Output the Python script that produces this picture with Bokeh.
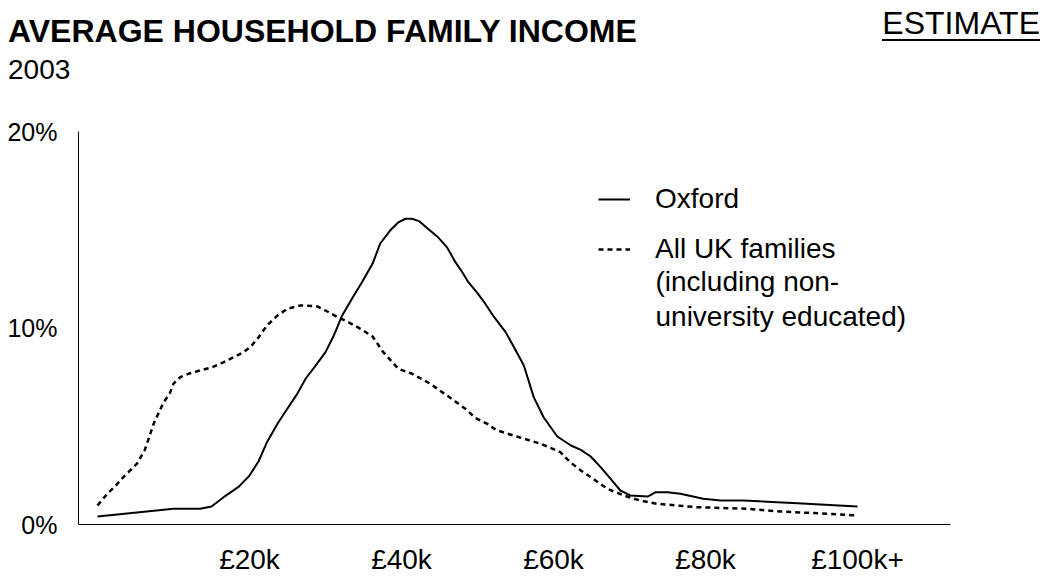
from bokeh.plotting import figure
from bokeh.layouts import column
from bokeh.models import Range1d, FixedTicker, Label, Legend, LegendItem, Div
from bokeh.embed import file_html
from bokeh.resources import INLINE

# ---- data (income in £k, share of households in %) ----
oxford_k = [0, 10, 13.5, 15, 16.6, 18.6, 20, 21.2, 22.3, 23.7, 25, 26.3, 27.4, 28.7, 30,
            31.1, 32.2, 33.5, 34.8, 36.2, 37.2, 38.5, 39.6, 40.5, 41.4, 42.3, 43.4, 44.7,
            46, 47.1, 48, 48.8, 50, 51, 52.2, 53.7, 54.7, 56.1, 57.4, 58.7, 60.5, 62.3,
            63.6, 64.9, 66.2, 67.5, 68.8, 70.1, 72.4, 73.4, 75, 76.7, 79.7, 82, 85, 92.1, 100]
oxford_pct = [0.41, 0.8, 0.8, 0.92, 1.39, 1.93, 2.49, 3.22, 4.19, 5.14, 5.9, 6.66, 7.43,
              8.09, 8.77, 9.62, 10.64, 11.5, 12.33, 13.28, 14.3, 14.96, 15.38, 15.56, 15.56,
              15.44, 15.08, 14.66, 14.1, 13.35, 12.84, 12.33, 11.77, 11.25, 10.55, 9.79, 9.1,
              8.09, 6.48, 5.46, 4.48, 4.02, 3.8, 3.46, 2.92, 2.33, 1.73, 1.48, 1.42, 1.64,
              1.64, 1.56, 1.31, 1.22, 1.22, 1.08, 0.92]

uk_k = [0, 1.3, 2.4, 3.4, 4.3, 5.2, 6.2, 6.8, 7.4, 8.1, 8.7, 9.5, 10, 10.9, 12.2, 13.5,
        15.1, 16.6, 17.9, 19.2, 20.1, 21.2, 22.3, 23.7, 25, 26.7, 28.9, 30, 31.6, 33, 34.6,
        36.2, 37.6, 39.6, 41.4, 43.8, 46, 48.4, 49.7, 51.3, 52.5, 54.7, 58.3, 60.9, 62.2,
        63.6, 64.9, 67.1, 69.2, 71.4, 73.7, 78.9, 85.5, 89.9, 94.3, 100]
uk_pct = [0.97, 1.57, 1.98, 2.41, 2.75, 3.1, 3.77, 4.44, 5.14, 5.72, 6.22, 6.66, 7.17, 7.5,
          7.7, 7.84, 8.0, 8.26, 8.51, 8.77, 9.02, 9.53, 10.13, 10.64, 10.98, 11.15, 11.1,
          10.89, 10.55, 10.3, 9.96, 9.57, 8.77, 7.92, 7.67, 7.16, 6.56, 5.89, 5.43, 5.12,
          4.8, 4.53, 4.11, 3.68, 3.17, 2.75, 2.41, 1.82, 1.48, 1.22, 1.05, 0.88, 0.8, 0.66,
          0.58, 0.46]

x_ticks = [20, 40, 60, 80, 100]
x_tick_labels = ["£20k", "£40k", "£60k", "£80k", "£100k+"]
y_ticks = [0, 10, 20]
y_tick_labels = ["0%", "10%", "20%"]

title_text = "AVERAGE HOUSEHOLD FAMILY INCOME"
subtitle_text = "2003"
estimate_text = "ESTIMATE"
series_names = ["Oxford", "All UK families"]
legend_extra = ["(including non-", "university educated)"]

FONT = "Liberation Sans"
W = 1048
HEAD_H = 100
MAIN_H = 477

# ---- header (titles) ----
head_html = (
    f'<div style="position:relative;width:{W}px;height:{HEAD_H}px;'
    f'font-family:\'{FONT}\';color:black;margin:0;padding:0;">'
    f'<span style="position:absolute;left:8px;top:15px;font-size:32px;line-height:1;'
    f'font-weight:bold;white-space:nowrap;">{title_text}</span>'
    f'<span style="position:absolute;left:8px;top:56px;font-size:28px;line-height:1;'
    f'white-space:nowrap;">{subtitle_text}</span>'
    f'<span style="position:absolute;right:8px;top:7px;font-size:32px;line-height:32px;'
    f'white-space:nowrap;border-bottom:2px solid black;">{estimate_text}</span>'
    f'</div>'
)
head = Div(text=head_html, width=W, height=HEAD_H, margin=0)

# ---- main chart ----
p = figure(width=W, height=MAIN_H, output_backend="svg", toolbar_location=None,
           x_range=Range1d(-2.5, 112.24), y_range=Range1d(0, 20),
           min_border_left=78, min_border_right=98, min_border_top=31,
           min_border_bottom=53)
p.outline_line_color = None
p.grid.visible = False

for ax in (p.xaxis[0], p.yaxis[0]):
    ax.axis_line_color = "black"
    ax.axis_line_width = 1
    ax.major_tick_line_color = None
    ax.minor_tick_line_color = None
    ax.major_tick_out = 0
    ax.major_tick_in = 0
    ax.minor_tick_out = 0
    ax.minor_tick_in = 0
    ax.major_label_text_font = FONT
    ax.major_label_text_color = "black"

p.xaxis.ticker = FixedTicker(ticks=x_ticks)
p.xaxis.major_label_overrides = {t: l for t, l in zip(x_ticks, x_tick_labels)}
p.xaxis.major_label_text_font_size = "28px"
p.xaxis.major_label_standoff = 19

p.yaxis.ticker = FixedTicker(ticks=y_ticks)
p.yaxis.major_label_overrides = {t: l for t, l in zip(y_ticks, y_tick_labels)}
p.yaxis.major_label_text_font_size = "25px"
p.yaxis.major_label_standoff = 21

r_ox = p.line(oxford_k, oxford_pct, line_color="black", line_width=2)
r_uk = p.line(uk_k, uk_pct, line_color="black", line_width=2.5, line_dash="5 4")

legend = Legend(items=[LegendItem(label=series_names[0], renderers=[r_ox]),
                       LegendItem(label=series_names[1], renderers=[r_uk])],
                location=(520, 259), label_text_font=FONT, label_text_font_size="28px",
                label_text_color="black",
                glyph_width=32, glyph_height=20, label_standoff=25, padding=0, margin=0,
                spacing=18, border_line_alpha=0, background_fill_alpha=0)
p.add_layout(legend, "center")

for i, t in enumerate(legend_extra):
    p.add_layout(Label(x=577, y=243 - i * 35, x_units="screen", y_units="screen", text=t,
                       text_font=FONT, text_font_size="28px", text_color="black",
                       text_baseline="alphabetic"))

layout = column(head, p, spacing=0)
open("out.html", "w").write(file_html(layout, INLINE))
